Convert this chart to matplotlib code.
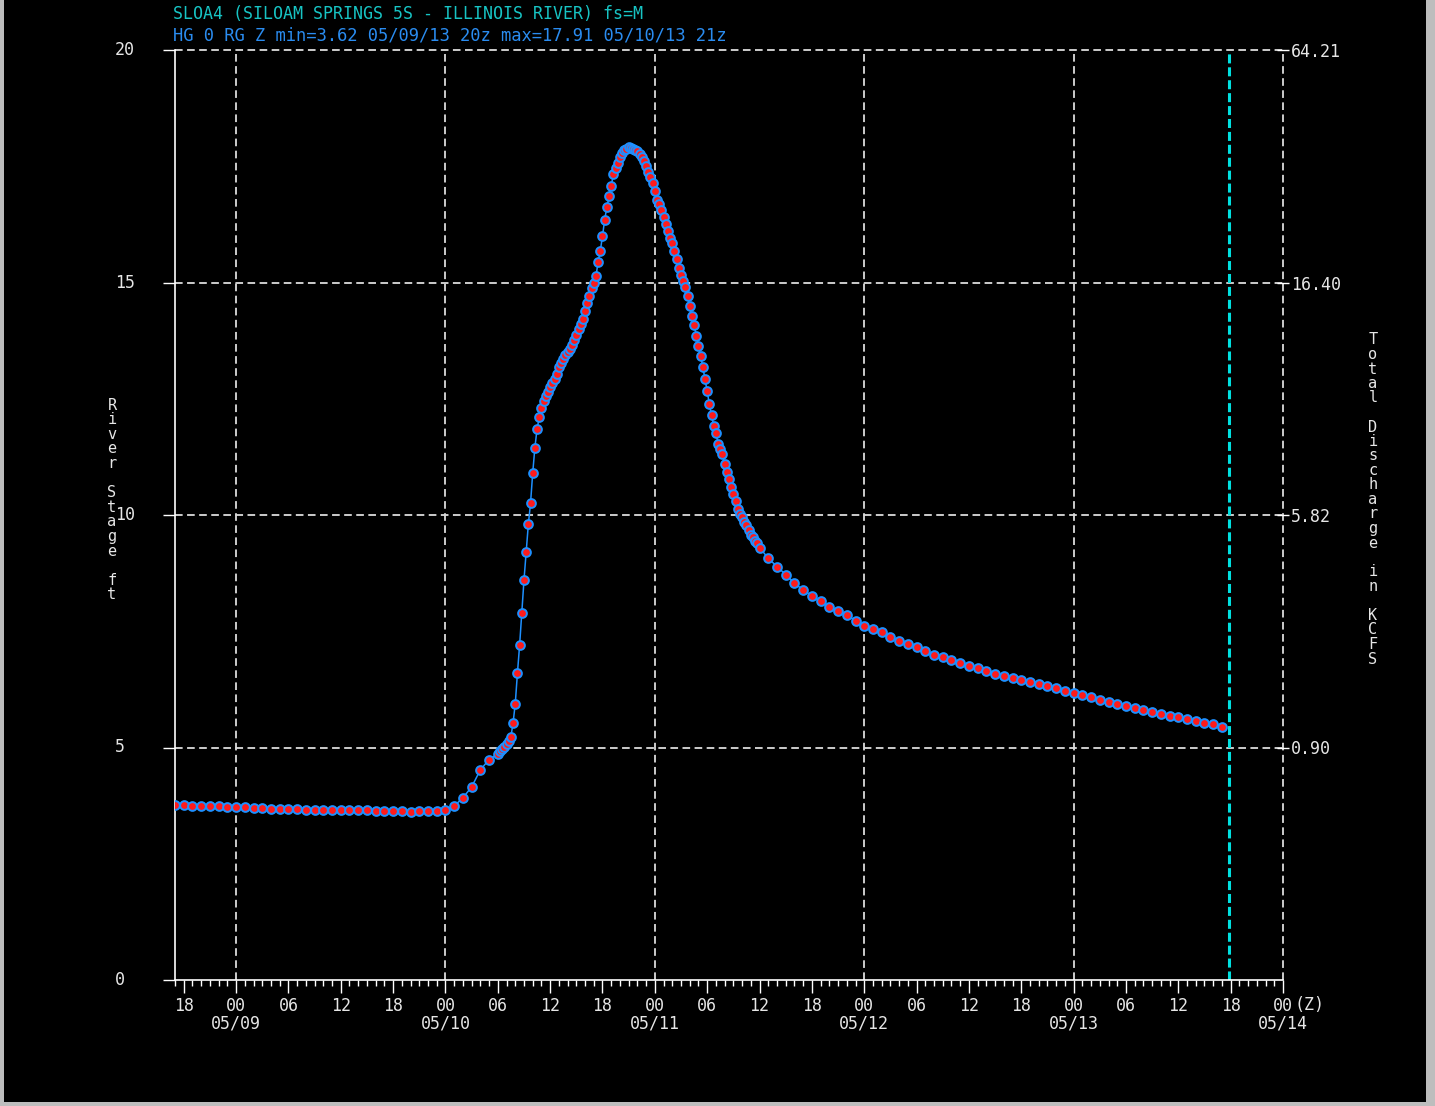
import numpy as np
import matplotlib
matplotlib.use("Agg")
import matplotlib.pyplot as plt
from matplotlib.patches import Rectangle
import matplotlib.transforms as mtransforms

plt.rcParams["lines.scale_dashes"] = False
MONO = "DejaVu Sans Mono"

# hours since 05/09 00z
stage_early = [3.76, 3.76, 3.75, 3.75, 3.74, 3.74, 3.73,
               3.72, 3.71, 3.70, 3.69, 3.68, 3.68, 3.67, 3.67, 3.66, 3.66, 3.66, 3.66,
               3.65, 3.65, 3.65, 3.65, 3.64, 3.64, 3.63, 3.63, 3.62, 3.63, 3.63, 3.64,
               3.66, 3.74, 3.92, 4.15, 4.52, 4.74, 4.86]          # hourly, -7 .. 30
stage_event = [4.92, 4.97, 5.02, 5.07,
               5.13, 5.23, 5.53, 5.94,
               6.60, 7.20, 7.90, 8.60,
               9.20, 9.80, 10.25, 10.90,
               11.45, 11.85, 12.10, 12.30,
               12.45, 12.55, 12.65, 12.76,
               12.84, 12.92, 13.03, 13.18,
               13.27, 13.36, 13.44, 13.50,
               13.58, 13.66, 13.76, 13.88,
               14.00, 14.10, 14.22, 14.38,
               14.56, 14.72, 14.88, 15.00,
               15.13, 15.45, 15.68, 16.00,
               16.35, 16.62, 16.85, 17.08,
               17.33, 17.46, 17.58, 17.70,
               17.78, 17.84, 17.88, 17.91,
               17.90, 17.88, 17.85, 17.82,
               17.76, 17.70, 17.62, 17.50,
               17.37, 17.26, 17.14, 16.96,
               16.78, 16.68, 16.55, 16.40,
               16.25, 16.10, 15.95, 15.84,
               15.68, 15.50, 15.32, 15.17,
               15.04, 14.90, 14.72, 14.50,
               14.27, 14.08, 13.86, 13.64,
               13.42, 13.18, 12.92, 12.66,
               12.38, 12.14, 11.92, 11.77,
               11.53, 11.43, 11.32, 11.10,
               10.92, 10.77, 10.60, 10.45,
               10.30, 10.12, 10.03, 9.96,
               9.86, 9.78, 9.67, 9.58,
               9.52, 9.45, 9.39, 9.30]                          # 15-min, 30.25 .. 60
stage_late = [9.07, 8.89, 8.72, 8.53, 8.39, 8.26, 8.14, 8.03, 7.94, 7.85, 7.73, 7.62,
              7.55, 7.48, 7.37, 7.29, 7.22, 7.16, 7.08, 7.00, 6.94, 6.88, 6.82, 6.75,
              6.70, 6.65, 6.59, 6.54, 6.50, 6.45, 6.40, 6.36, 6.32, 6.27, 6.22, 6.18,
              6.13, 6.08, 6.03, 5.98, 5.94, 5.89, 5.84, 5.80, 5.76, 5.72, 5.68, 5.65,
              5.61, 5.57, 5.53, 5.50, 5.45]                      # hourly, 61 .. 113

hours = np.concatenate([
    -7 + np.arange(len(stage_early)),
    30.25 + 0.25 * np.arange(len(stage_event)),
    61 + np.arange(len(stage_late)),
])
stage = np.array(stage_early + stage_event + stage_late)

stage_ticks = [0, 5, 10, 15, 20]
flow_ticks = [5, 10, 15, 20]
flow_labels = ["0.90", "5.82", "16.40", "64.21"]
day_hours = [0, 24, 48, 72, 96, 120]
day_labels = ["05/09", "05/10", "05/11", "05/12", "05/13", "05/14"]
obs_time = 113.8

title1 = "SLOA4 (SILOAM SPRINGS 5S - ILLINOIS RIVER) fs=M"
title2 = "HG 0 RG Z min=3.62 05/09/13 20z max=17.91 05/10/13 21z"

W, H = 1435, 1106
fig = plt.figure(figsize=(W / 100, H / 100), dpi=100, facecolor="#bdbdbd")
fig.patches.append(Rectangle((4 / W, 4 / H), 1422 / W, 1 - 4 / H,
                             transform=fig.transFigure, facecolor="black",
                             edgecolor="none", zorder=-5))

ax = fig.add_axes([175 / W, 1 - 980 / H, 1108 / W, 930 / H])
ax.set_facecolor("black")
ax.set_xlim(-7, 120)
ax.set_ylim(0, 20)

grid_kw = dict(color="#dcdcdc", lw=1.3, linestyle=(0, (5.5, 3.2)), clip_on=False, zorder=1)
for v in stage_ticks[1:]:
    ax.axhline(v, **grid_kw)
for d in day_hours:
    ax.axvline(d, **grid_kw)
ax.axvline(obs_time, color="#00e0e0", lw=2.2, linestyle=(0, (6.5, 2.8)), zorder=2)

ax.plot(hours, stage, "-", color="#1e90ff", lw=1.1, zorder=3)
ax.plot(hours, stage, "o", ms=6.3, mfc="#ff1a1a", mec="#1e90ff", mew=1.4, zorder=4)

for s in ["top", "right"]:
    ax.spines[s].set_visible(False)
for s in ["left", "bottom"]:
    ax.spines[s].set_color("white")
    ax.spines[s].set_linewidth(1.2)

# x axis: hourly minor ticks, 6-hourly labelled ticks
ax.set_xticks(np.arange(-6, 121, 6))
ax.set_xticklabels(["%02d" % (h % 24) for h in np.arange(-6, 121, 6)])
ax.set_xticks(np.arange(-7, 121, 1), minor=True)
ax.tick_params(axis="x", which="major", length=9.5, width=1, color="white",
               labelcolor="#e6e6e6", labelsize=12, pad=2.5)
ax.tick_params(axis="x", which="minor", length=4.5, width=1, color="white")
for lab in ax.get_xticklabels():
    lab.set_family(MONO)

blend = mtransforms.blended_transform_factory(ax.transData, ax.transAxes)
for d, lab in zip(day_hours, day_labels):
    ax.text(d, -43 / 930, lab, transform=blend, ha="center", va="center",
            color="#e6e6e6", fontsize=12, family=MONO)
ax.text(121.3, -25 / 930, "(Z)", transform=blend, ha="left", va="center",
        color="#e6e6e6", fontsize=12, family=MONO)

# left axis
ax.set_yticks(stage_ticks)
ax.set_yticklabels([])
ax.tick_params(axis="y", length=9, width=1, color="white", direction="out")
blend_y = mtransforms.blended_transform_factory(ax.transAxes, ax.transData)
for v in stage_ticks:
    ax.text(-60 / 1108, v, str(v), transform=blend_y, ha="left", va="center",
            color="#e6e6e6", fontsize=12, family=MONO)

# right axis
ax2 = ax.twinx()
ax2.set_ylim(0, 20)
for s in ax2.spines.values():
    s.set_visible(False)
ax2.set_yticks(flow_ticks)
ax2.set_yticklabels(flow_labels)
ax2.tick_params(axis="y", direction="inout", length=9, width=1, color="white",
                labelcolor="#e6e6e6", labelsize=12, pad=1)
for lab in ax2.get_yticklabels():
    lab.set_family(MONO)

# stacked axis titles
for i, ch in enumerate("River Stage ft"):
    fig.text(112 / W, 1 - (405 + 14.6 * i) / H, ch, ha="center", va="center",
             color="#e6e6e6", fontsize=11, family=MONO)
for i, ch in enumerate("Total Discharge in KCFS"):
    fig.text(1373 / W, 1 - (340 + 14.5 * i) / H, ch, ha="center", va="center",
             color="#e6e6e6", fontsize=11, family=MONO)

fig.text(173 / W, 1 - 14 / H, title1, ha="left", va="center", color="#17c4c4",
         fontsize=12, family=MONO)
fig.text(173 / W, 1 - 36 / H, title2, ha="left", va="center", color="#2a8cf0",
         fontsize=12.3, family=MONO)

fig.savefig("out.png", dpi=100, facecolor=fig.get_facecolor())
